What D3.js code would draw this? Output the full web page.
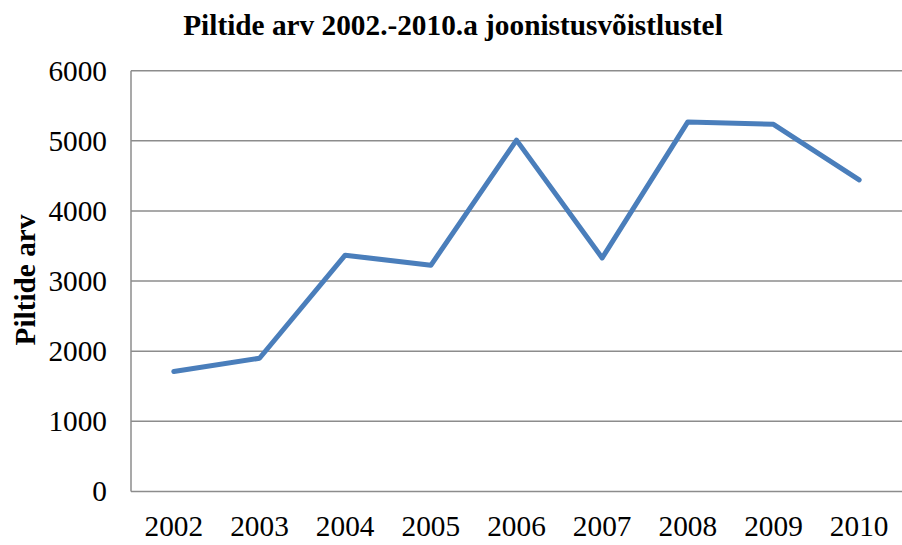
<!DOCTYPE html>
<meta charset="utf-8">
<html>
<head>
  <title>Piltide arv 2002.-2010.a joonistusvõistlustel</title>
  <script src="https://cdn.jsdelivr.net/npm/d3@7"></script>
  <style>
    body { margin: 0; background: #fff; }
    text { font-family: "Liberation Serif", "Times New Roman", serif; fill: #000; }
    .grid line { stroke: #8c8c8c; stroke-width: 1.5px; }
  </style>
</head>
<body>
  <svg id="svg" width="902" height="545"></svg>
  <script>
    // data
    var years = ["2002", "2003", "2004", "2005", "2006", "2007", "2008", "2009", "2010"];
    var counts = [1710, 1900, 3370, 3225, 5010, 3330, 5270, 5236, 4442];
    var yTicks = [0, 1000, 2000, 3000, 4000, 5000, 6000];

    var svg = d3.select("#svg");
    var plotLeft = 131, plotRight = 902, plotTop = 70.7, plotBottom = 491.5;

    var x = d3.scaleBand().domain(years).range([plotLeft, plotRight]);
    var y = d3.scaleLinear().domain([0, 6000]).range([plotBottom, plotTop]);

    // horizontal gridlines
    svg.append("g")
      .attr("class", "grid")
      .selectAll("line")
      .data(yTicks.slice(1))
      .enter()
      .append("line")
      .attr("x1", plotLeft)
      .attr("x2", plotRight)
      .attr("y1", function (d) { return y(d); })
      .attr("y2", function (d) { return y(d); });

    // left axis line
    svg.append("line")
      .attr("x1", plotLeft).attr("x2", plotLeft)
      .attr("y1", plotTop).attr("y2", plotBottom)
      .attr("stroke", "#8c8c8c").attr("stroke-width", 1.5);

    // bottom axis line
    svg.append("line")
      .attr("x1", plotLeft).attr("x2", plotRight)
      .attr("y1", plotBottom).attr("y2", plotBottom)
      .attr("stroke", "#8c8c8c").attr("stroke-width", 1.5);

    // y tick labels
    svg.append("g")
      .selectAll("text")
      .data(yTicks)
      .enter()
      .append("text")
      .attr("x", 107)
      .attr("y", function (d) { return y(d); })
      .attr("dy", "0.34em")
      .attr("text-anchor", "end")
      .style("font-size", "29.3px")
      .text(function (d) { return d; });

    // x tick labels
    svg.append("g")
      .selectAll("text")
      .data(years)
      .enter()
      .append("text")
      .attr("x", function (d) { return x(d) + x.bandwidth() / 2; })
      .attr("y", 536)
      .attr("text-anchor", "middle")
      .style("font-size", "29.3px")
      .text(function (d) { return d; });

    // the line
    var line = d3.line()
      .x(function (d, i) { return x(years[i]) + x.bandwidth() / 2; })
      .y(function (d) { return y(d); });

    svg.append("path")
      .datum(counts)
      .attr("d", line)
      .attr("fill", "none")
      .attr("stroke", "#4a7ebb")
      .attr("stroke-width", 5)
      .attr("stroke-linejoin", "round")
      .attr("stroke-linecap", "round");

    // title
    svg.append("text")
      .attr("x", 453)
      .attr("y", 35)
      .attr("text-anchor", "middle")
      .style("font-size", "29.3px")
      .style("font-weight", "bold")
      .text("Piltide arv 2002.-2010.a joonistusvõistlustel");

    // y axis title
    svg.append("text")
      .attr("transform", "translate(35, 280) rotate(-90)")
      .attr("text-anchor", "middle")
      .style("font-size", "29.3px")
      .style("font-weight", "bold")
      .text("Piltide arv");
  </script>
</body>
</html>
